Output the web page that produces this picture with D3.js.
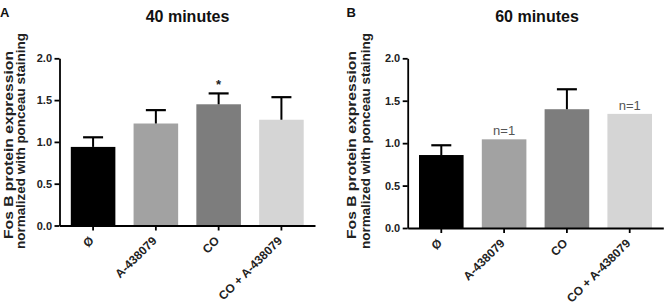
<!DOCTYPE html>
<html>
<head>
<meta charset="utf-8">
<script src="https://cdn.jsdelivr.net/npm/d3@7"></script>
<style>
  html, body { margin: 0; padding: 0; background: #fff; }
  svg { display: block; font-family: "Liberation Sans", Arial, sans-serif; }
</style>
</head>
<body>
<svg id="chart" width="667" height="305"></svg>
<script>
// ---- data ----
const categories = ["Ø", "A-438079", "CO", "CO + A-438079"];
const barColors = ["#000000", "#a2a2a2", "#7d7d7d", "#d5d5d5"];
const yTicks = [0, 0.5, 1.0, 1.5, 2.0];

const means40 = [0.94, 1.22, 1.45, 1.265];
const sem40 = [0.115, 0.16, 0.13, 0.27];
const notes40 = ["", "", "*", ""];

const means60 = [0.86, 1.045, 1.40, 1.345];
const sem60 = [0.115, null, 0.235, null];
const notes60 = ["", "n=1", "", "n=1"];

const titles = ["40 minutes", "60 minutes"];
const letters = ["A", "B"];
const yLabelLines = ["Fos B protein expression", "normalized with ponceau staining"];

const svg = d3.select("#chart");

function drawPanel(cfg) {
  const g = svg.append("g");
  const x = d3.scaleBand().domain(categories).range([cfg.x0, cfg.x1])
    .paddingInner(0.29).paddingOuter(0.18);
  const y = d3.scaleLinear().domain([0, 2]).range([cfg.yBottom, cfg.yTop]);

  const rows = categories.map((c, i) => ({ c, i, m: cfg.means[i], e: cfg.sems[i], note: cfg.notes[i] }));

  // bars
  g.selectAll("rect.bar").data(rows).enter().append("rect")
    .attr("class", "bar")
    .attr("x", d => x(d.c))
    .attr("width", x.bandwidth())
    .attr("y", d => y(d.m))
    .attr("height", d => y(0) - y(d.m))
    .attr("fill", d => barColors[d.i]);

  // error bars (upper only)
  const eb = rows.filter(d => d.e != null);
  g.selectAll("line.stem").data(eb).enter().append("line")
    .attr("x1", d => x(d.c) + x.bandwidth() / 2)
    .attr("x2", d => x(d.c) + x.bandwidth() / 2)
    .attr("y1", d => y(d.m))
    .attr("y2", d => y(d.m + d.e))
    .attr("stroke", "#000").attr("stroke-width", 2);
  g.selectAll("line.cap").data(eb).enter().append("line")
    .attr("x1", d => x(d.c) + x.bandwidth() / 2 - 10)
    .attr("x2", d => x(d.c) + x.bandwidth() / 2 + 10)
    .attr("y1", d => y(d.m + d.e))
    .attr("y2", d => y(d.m + d.e))
    .attr("stroke", "#000").attr("stroke-width", 2.2);

  // annotations
  rows.filter(d => d.note === "*").forEach(d => {
    g.append("text")
      .attr("x", x(d.c) + x.bandwidth() / 2)
      .attr("y", y(d.m + (d.e || 0)) - 4.5)
      .attr("text-anchor", "middle")
      .attr("font-size", 13).attr("font-weight", "bold")
      .attr("fill", "#222")
      .text("*");
  });
  rows.filter(d => d.note && d.note !== "*").forEach(d => {
    g.append("text")
      .attr("x", x(d.c) + x.bandwidth() / 2)
      .attr("y", y(d.m + (d.e || 0)) - 4)
      .attr("text-anchor", "middle")
      .attr("font-size", 13)
      .attr("fill", "#555")
      .text(d.note);
  });

  // y axis
  const ya = g.append("g").attr("transform", `translate(${cfg.x0},0)`)
    .call(d3.axisLeft(y).tickValues(yTicks).tickFormat(d3.format(".1f"))
      .tickSize(5).tickSizeOuter(0).tickPadding(2.5));
  ya.select(".domain").attr("stroke", "#000").attr("stroke-width", 1.8);
  ya.selectAll(".tick line").attr("stroke", "#000").attr("stroke-width", 1.8);
  ya.selectAll(".tick text").attr("font-size", 11).attr("font-weight", "bold")
    .attr("fill", "#222").attr("font-family", "Liberation Sans, Arial, sans-serif");

  // x axis
  const xa = g.append("g").attr("transform", `translate(0,${cfg.yBottom})`)
    .call(d3.axisBottom(x).tickSize(5).tickSizeOuter(0));
  xa.select(".domain").attr("stroke", "#000").attr("stroke-width", 1.8);
  xa.selectAll(".tick line").attr("stroke", "#000").attr("stroke-width", 1.8);
  xa.selectAll(".tick text")
    .attr("x", null).attr("y", null).attr("dy", null)
    .attr("transform", "translate(1.5,16) rotate(-45)")
    .attr("text-anchor", "end")
    .attr("font-size", 12).attr("font-weight", "bold")
    .attr("fill", "#222").attr("font-family", "Liberation Sans, Arial, sans-serif");

  // title
  g.append("text")
    .attr("x", cfg.titleX).attr("y", 21.5)
    .attr("text-anchor", "middle")
    .attr("font-size", 16).attr("font-weight", "bold").attr("fill", "#111")
    .text(cfg.title);

  // panel letter
  g.append("text")
    .attr("x", cfg.letterX).attr("y", 16.7)
    .attr("font-size", 13).attr("font-weight", "bold").attr("fill", "#111")
    .text(cfg.letter);

  // y label (two lines, rotated)
  const yl = [
    { t: yLabelLines[0], bx: cfg.labelX1, cy: 145, len: 188 },
    { t: yLabelLines[1], bx: cfg.labelX2, cy: 141, len: 216 }
  ];
  yl.forEach(l => {
    g.append("text")
      .attr("transform", `translate(${l.bx},${l.cy}) rotate(-90)`)
      .attr("text-anchor", "middle")
      .attr("font-size", 13).attr("font-weight", "bold").attr("fill", "#222")
      .attr("textLength", l.len).attr("lengthAdjust", "spacingAndGlyphs")
      .text(l.t);
  });
}

drawPanel({
  x0: 59.5, x1: 315, yBottom: 225.5, yTop: 58.3,
  means: means40, sems: sem40, notes: notes40,
  title: titles[0], titleX: 187.5, letter: letters[0], letterX: 0,
  labelX1: 12.5, labelX2: 25
});
drawPanel({
  x0: 407.7, x1: 663.3, yBottom: 228, yTop: 58.3,
  means: means60, sems: sem60, notes: notes60,
  title: titles[1], titleX: 537, letter: letters[1], letterX: 346.5,
  labelX1: 356, labelX2: 369.5
});
</script>
</body>
</html>
